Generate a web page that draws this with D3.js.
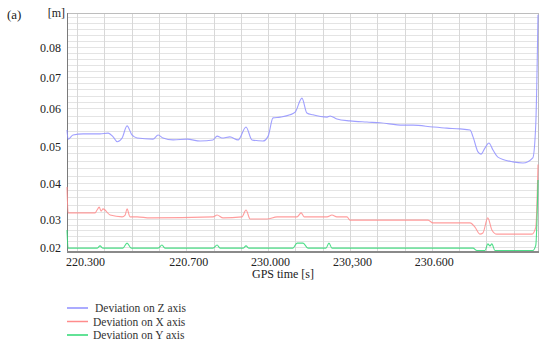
<!DOCTYPE html>
<html>
<head>
<meta charset="utf-8">
<script src="https://cdn.jsdelivr.net/npm/d3@7"></script>
<style>
  body { margin: 0; background: #fff; }
</style>
</head>
<body>
<div id="chart"></div>
<script>
// x is measured in grid divisions of the GPS time axis, y in metres
var yTicks = [0.02, 0.03, 0.04, 0.05, 0.06, 0.07, 0.08];
var xTickPos = [0.22, 4, 7, 10, 13];
var xTickLabels = ["220.300", "220.700", "230.000", "230,300", "230.600"];
var seriesNames = ["Deviation on Z axis", "Deviation on X axis", "Deviation on Y axis"];

var devZ = [[-0.37,0.0542],[-0.33,0.0518],[-0.15,0.0529],[0.22,0.0532],[0.84,0.0532],[1.14,0.0534],
  [1.32,0.0524],[1.47,0.0511],[1.65,0.0521],[1.83,0.0553],[2.01,0.0529],[2.20,0.0521],[2.78,0.0518],
  [2.97,0.0529],[3.15,0.0521],[3.52,0.0516],[4.03,0.0518],[4.51,0.0513],[4.98,0.0516],[5.13,0.0526],
  [5.31,0.0521],[5.60,0.0524],[5.90,0.0516],[6.19,0.0550],[6.41,0.0516],[6.81,0.0513],[7.00,0.0526],
  [7.18,0.0574],[7.44,0.0576],[7.80,0.0582],[7.99,0.0589],[8.24,0.0632],[8.42,0.0587],[8.64,0.0582],
  [9.16,0.0576],[9.27,0.0579],[9.52,0.0571],[10.0,0.0566],[10.62,0.0563],[11.10,0.0561],[11.94,0.0555],
  [12.31,0.0555],[13.04,0.0550],[13.55,0.0547],[14.03,0.0545],[14.40,0.0542],[14.51,0.0524],[14.69,0.0484],
  [14.80,0.0478],[14.95,0.0495],[15.09,0.0508],[15.24,0.0489],[15.42,0.0470],[15.97,0.0457],[16.34,0.0454],
  [16.70,0.0468],[16.81,0.0560],[16.89,0.0907]];

var devX = [[-0.37,0.0389],[-0.33,0.0317],[0.11,0.0317],[0.66,0.0317],[0.73,0.0325],[0.81,0.0333],
  [0.88,0.0322],[0.95,0.0328],[1.21,0.0311],[1.65,0.0306],[1.76,0.0311],[1.83,0.0328],[1.94,0.0306],
  [2.20,0.0306],[2.67,0.0303],[4.98,0.0306],[5.13,0.0311],[5.35,0.0303],[6.04,0.0306],[6.19,0.0325],
  [6.34,0.0300],[6.96,0.0300],[7.33,0.0306],[8.06,0.0306],[8.21,0.0317],[8.32,0.0306],[9.16,0.0306],
  [9.34,0.0311],[9.52,0.0306],[9.89,0.0306],[10.0,0.0296],[12.86,0.0296],[13.04,0.0286],[14.40,0.0286],
  [14.58,0.0271],[14.76,0.0246],[14.87,0.0250],[15.05,0.0303],[15.20,0.0261],[15.38,0.0246],[16.67,0.0246],
  [16.81,0.0271],[16.89,0.0450]];

var devY = [[-0.37,0.0261],[-0.33,0.0196],[0.73,0.0196],[0.84,0.0204],[0.95,0.0196],[1.68,0.0196],
  [1.83,0.0214],[1.98,0.0196],[2.97,0.0196],[3.11,0.0207],[3.22,0.0196],[4.98,0.0196],[5.13,0.0207],
  [5.24,0.0196],[6.08,0.0196],[6.19,0.0204],[6.30,0.0196],[7.91,0.0196],[8.06,0.0214],[8.28,0.0214],
  [8.46,0.0196],[9.12,0.0196],[9.23,0.0214],[9.34,0.0196],[14.51,0.0196],[14.65,0.0188],[14.95,0.0188],
  [15.05,0.0211],[15.13,0.0204],[15.20,0.0211],[15.31,0.0188],[16.70,0.0188],[16.81,0.0207],[16.89,0.0408]];

var colors = ["#8f8fff", "#ff8c8c", "#2ed873"];
var serif = "'Liberation Serif', 'DejaVu Serif', serif";

var width = 550, height = 348;
var plot = {left: 67, right: 538, top: 13, bottom: 251};

var svg = d3.select("#chart").append("svg")
  .attr("width", width)
  .attr("height", height)
  .style("font-family", serif);

var x = d3.scaleLinear()
  .domain([-0.37, 16.89])
  .range([plot.left, plot.right]);

// hand-set labels of the original are not evenly spaced, so the y scale is piecewise
var y = d3.scaleLinear()
  .domain([0.0186].concat(yTicks, [0.0913]))
  .range([251, 247, 219, 183, 146, 108, 77, 47, 13]);

// grid
svg.append("g")
  .selectAll("line")
  .data(d3.range(0.02, 0.0913, 0.002))
  .enter().append("line")
  .attr("x1", plot.left).attr("x2", plot.right)
  .attr("y1", d => Math.round(y(d)) + 0.5).attr("y2", d => Math.round(y(d)) + 0.5)
  .style("stroke", "#e4e4e4");

svg.append("g")
  .selectAll("line")
  .data(d3.range(0, 17))
  .enter().append("line")
  .attr("x1", d => Math.round(x(d)) + 0.5).attr("x2", d => Math.round(x(d)) + 0.5)
  .attr("y1", plot.top).attr("y2", plot.bottom)
  .style("stroke", "#d8d8d8");

// frame
svg.append("rect")
  .attr("x", plot.left + 0.5).attr("y", plot.top + 0.5)
  .attr("width", plot.right - plot.left).attr("height", plot.bottom - plot.top)
  .style("fill", "none")
  .style("stroke", "#bdbdbd");
svg.append("line")
  .attr("x1", plot.left).attr("x2", plot.right + 1)
  .attr("y1", plot.bottom + 1).attr("y2", plot.bottom + 1)
  .style("stroke", "#8a8a8a").style("stroke-width", 2);
svg.append("line")
  .attr("x1", plot.left + 0.5).attr("x2", plot.left + 0.5)
  .attr("y1", plot.top).attr("y2", plot.bottom)
  .style("stroke", "#7a7a7a");

// series
var line = d3.line()
  .x(d => x(d[0]))
  .y(d => y(d[1]))
  .curve(d3.curveMonotoneX);

[devZ, devX, devY].forEach(function(s, i) {
  svg.append("path")
    .datum(s)
    .attr("d", line)
    .style("fill", "none")
    .style("stroke", colors[i])
    .style("stroke-width", 1.1)
    .style("opacity", 0.85);
});

// axes
var yAxis = svg.append("g")
  .attr("transform", "translate(" + (plot.left - 3) + ",0)")
  .call(d3.axisLeft(y).tickValues(yTicks).tickSize(0).tickFormat(d3.format(".2f")));
yAxis.select(".domain").remove();
yAxis.attr("font-family", serif).attr("font-size", 12);
yAxis.selectAll("text").attr("fill", "#222").attr("dy", "0.35em");

var xAxis = svg.append("g")
  .attr("transform", "translate(2," + (plot.bottom + 3) + ")")
  .call(d3.axisBottom(x).tickValues(xTickPos).tickSize(0)
    .tickFormat((d, i) => xTickLabels[i]));
xAxis.select(".domain").remove();
xAxis.attr("font-family", serif).attr("font-size", 12);
xAxis.selectAll("text").attr("fill", "#222");

svg.append("text")
  .attr("x", 283).attr("y", 278)
  .attr("text-anchor", "middle")
  .style("font-size", "12px")
  .style("fill", "#222")
  .text("GPS time [s]");

svg.append("text")
  .attr("x", 65).attr("y", 17)
  .attr("text-anchor", "end")
  .style("font-size", "12px")
  .style("fill", "#222")
  .text("[m]");

svg.append("text")
  .attr("x", 7).attr("y", 19)
  .style("font-size", "13px")
  .style("fill", "#222")
  .text("(a)");

// legend
var legend = svg.append("g")
  .selectAll("g")
  .data(seriesNames)
  .enter().append("g")
  .attr("transform", (d, i) => "translate(67," + (308 + i * 13.5) + ")");
legend.append("line")
  .attr("x1", 0).attr("x2", 21)
  .style("stroke", (d, i) => colors[i])
  .style("stroke-width", 1.5);
legend.append("text")
  .attr("x", (d, i) => i == 0 ? 28 : 26)
  .attr("y", 4)
  .style("font-size", "11.5px")
  .style("fill", "#333")
  .text(d => d);
</script>
</body>
</html>
